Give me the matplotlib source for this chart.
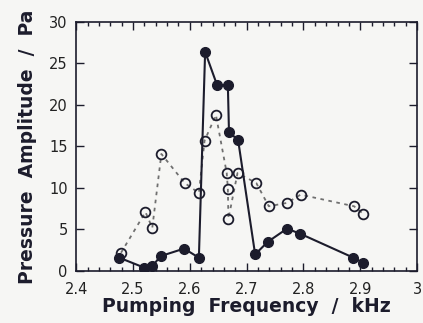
import numpy as np
import matplotlib.pyplot as plt
from matplotlib.ticker import MultipleLocator

# filled circles, solid line
freq_filled = [2.476, 2.520, 2.534, 2.549, 2.590, 2.616, 2.627, 2.648, 2.667,
               2.669, 2.685, 2.715, 2.737, 2.771, 2.794, 2.888, 2.905]
amp_filled = [1.6, 0.4, 0.6, 1.8, 2.7, 1.6, 26.4, 22.4, 22.4,
              16.7, 15.8, 2.0, 3.5, 5.1, 4.5, 1.6, 1.0]

# open circles, dashed line
freq_open = [2.479, 2.522, 2.534, 2.550, 2.591, 2.616, 2.626, 2.646, 2.665,
             2.667, 2.668, 2.684, 2.717, 2.739, 2.771, 2.795, 2.889, 2.905]
amp_open = [2.2, 7.1, 5.2, 14.1, 10.6, 9.4, 15.7, 18.8, 11.8,
            9.9, 6.3, 11.8, 10.6, 7.8, 8.2, 9.2, 7.8, 6.9]

x_ticks = [2.4, 2.5, 2.6, 2.7, 2.8, 2.9, 3.0]
x_labels = ['2.4', '2.5', '2.6', '2.7', '2.8', '2.9', '3']
y_ticks = [0, 5, 10, 15, 20, 25, 30]

ink = '#1c1c2c'
plt.rcParams['font.family'] = ['DejaVu Sans']

fig = plt.figure(figsize=(4.23, 3.23), dpi=100)
fig.patch.set_facecolor('#f6f6f4')
ax = fig.add_axes([0.18, 0.161, 0.806, 0.771])
ax.set_facecolor('#f6f6f4')

ax.plot(freq_open, amp_open, linestyle=(0, (2, 2.5)), color='#707070', lw=1.3,
        marker='o', ms=7, mfc='none', mec=ink, mew=1.3, zorder=2)
ax.plot(freq_filled, amp_filled, '-', color=ink, lw=1.5,
        marker='o', ms=7, mfc=ink, mec=ink, zorder=3)

ax.set_xlim(2.4, 3.0)
ax.set_ylim(0, 30)
ax.set_xticks(x_ticks)
ax.set_xticklabels(x_labels)
ax.set_yticks(y_ticks)
ax.xaxis.set_minor_locator(MultipleLocator(0.02))

ax.tick_params(which='both', direction='in', top=True, right=True,
               colors=ink, labelsize=10.5)
ax.tick_params(axis='x', which='major', length=6, width=1, pad=8)
ax.tick_params(axis='x', which='minor', length=3, width=1)
ax.tick_params(axis='y', which='major', length=6, width=1, pad=6)
for lab in ax.get_xticklabels() + ax.get_yticklabels():
    lab.set_color('#222222')

for sp in ax.spines.values():
    sp.set_color(ink)
    sp.set_linewidth(1.2)

ax.set_xlabel('Pumping  Frequency  /  kHz', fontsize=13.5, fontweight='bold',
              color=ink, labelpad=0)
ax.set_ylabel('Pressure  Amplitude  /  Pa', fontsize=13.5, fontweight='bold',
              color=ink, labelpad=9)

fig.savefig('out.png', dpi=100, facecolor=fig.get_facecolor())
